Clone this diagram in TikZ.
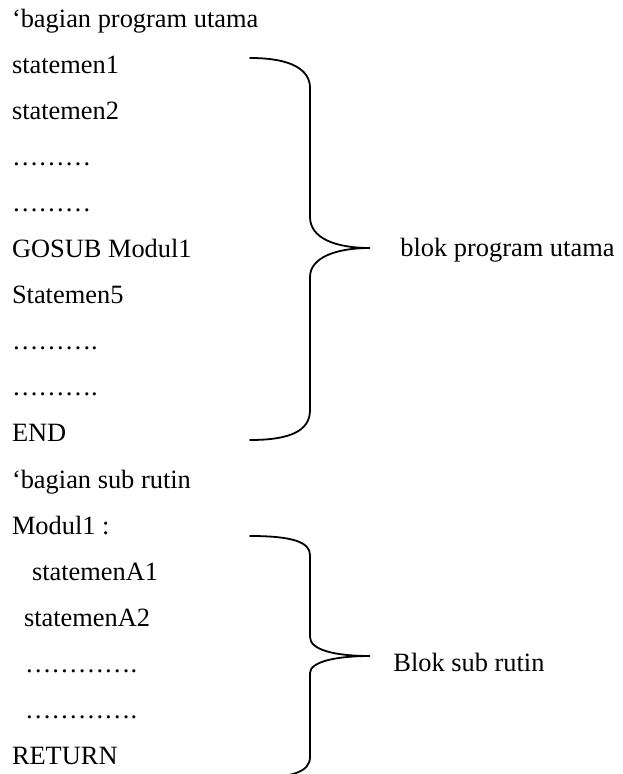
\documentclass[tikz,border=0pt]{standalone}
\usepackage{fontspec}
\setmainfont{Liberation Serif}
\usepackage{tikz}
\usetikzlibrary{matrix}

\begin{document}
\begin{tikzpicture}[x=0.5pt, y=-0.5pt,
	every node/.style={font=\fontsize{13.2}{16}\selectfont},
	brace/.style={line width=0.9pt, line cap=round},
	bracelabel/.style={anchor=base west, inner sep=0pt}]
	\useasboundingbox (0,0) rectangle (622,774);
	
	\matrix(code)[matrix of nodes, anchor=north west,
	inner sep=0pt, outer sep=0pt, row sep=10.05pt,
	nodes={anchor=base west, inner sep=0pt, text height=10pt, text depth=3pt}]
	at (12,7)
	{ % one line of the listing per row
		‘bagian program utama\\
		statemen1\\
		statemen2\\
		………\\
		………\\
		GOSUB Modul1\\
		Statemen5\\
		……….\\
		……….\\
		END\\
		‘bagian sub rutin\\
		Modul1 :\\
		\hspace*{10pt}statemenA1\\
		\hspace*{6pt}statemenA2\\
		\hspace*{6.5pt}………….\\
		\hspace*{6.5pt}………….\\
		RETURN\\
	};
	
	% brace round the main program
	\draw[brace] (250,58) .. controls (292,58) and (310,70) .. (310,88)
		-- (310,217) .. controls (310,238) and (335,248) .. (370,248)
		.. controls (335,248) and (310,258) .. (310,277)
		-- (310,410) .. controls (310,430) and (292,440) .. (250,440);
	\node[bracelabel] (blokutama) at (400,257) {blok program utama};
	
	% brace round the sub routine
	\draw[brace] (250,536) .. controls (292,536) and (310,542) .. (310,555)
		-- (310,637) .. controls (310,650) and (335,656) .. (370,656)
		.. controls (335,656) and (310,662) .. (310,673)
		-- (310,757) .. controls (310,772) and (292,778) .. (250,778);
	\node[bracelabel] (bloksub) at (393,671) {Blok sub rutin};
	
\end{tikzpicture}
\end{document}
